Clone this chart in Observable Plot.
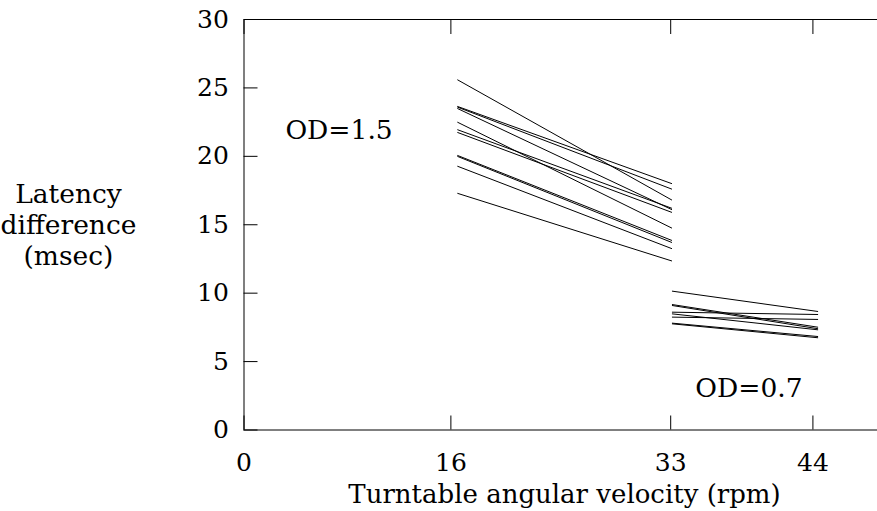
<!DOCTYPE html>
<html><head><meta charset="utf-8">
<script src="https://cdn.jsdelivr.net/npm/d3@7"></script>
<script src="https://cdn.jsdelivr.net/npm/@observablehq/plot@0.6"></script>
<style>
html,body{margin:0;padding:0;background:#fff;overflow:hidden;}
svg, svg text { font-family: "DejaVu Serif", "Liberation Serif", serif !important; }
</style>
</head><body><div id="chart"></div>
<script>
const xTicks = [0, 16, 33, 44];
const yTicks = [0, 5, 10, 15, 20, 25, 30];
const od15Speeds = [16.5, 33.1];
const od15Start = [25.6, 23.65, 23.6, 23.5, 22.5, 21.95, 21.75, 20.07, 20.0, 19.28, 17.3];
const od15End   = [16.8, 18.0, 17.6, 16.1, 14.75, 16.2, 15.9, 13.85, 13.7, 13.25, 12.35];
const od07Speeds = [33.1, 44.4];
const od07Start = [10.15, 9.17, 9.1, 8.61, 8.49, 8.25, 7.81, 7.76];
const od07End   = [8.66, 7.51, 7.40, 8.44, 7.32, 8.08, 6.83, 6.74];
const annotations = [
  {label: "OD=1.5", x: 3.2, y: 21.9},
  {label: "OD=0.7", x: 34.9, y: 3.05}
];
const xTitle = "Turntable angular velocity (rpm)";
const yTitle = "Latency\ndifference\n(msec)";

const segs = [
  ...od15Start.map((s, i) => ({x1: od15Speeds[0], y1: s, x2: od15Speeds[1], y2: od15End[i]})),
  ...od07Start.map((s, i) => ({x1: od07Speeds[0], y1: s, x2: od07Speeds[1], y2: od07End[i]}))
];

const chart = Plot.plot({
  width: 877, height: 511,
  marginLeft: 243.5, marginRight: -13, marginTop: 19, marginBottom: 81.5,
  style: {fontFamily: "DejaVu Serif", fontSize: "25px", color: "#000", background: "#fff"},
  x: {domain: [0, 50]},
  y: {domain: [0, 30]},
  marks: [
    Plot.frame({stroke: "#000", strokeWidth: 1}),
    Plot.axisX(xTicks, {anchor: "bottom", tickSize: -14, tickPadding: 37, label: null}),
    Plot.axisX(xTicks, {anchor: "top", tickSize: -14, tickFormat: () => "", label: null}),
    Plot.axisY(yTicks, {anchor: "left", tickSize: -14, tickPadding: 29.2, label: null}),
    Plot.axisY(yTicks, {anchor: "right", tickSize: -14, tickFormat: () => "", label: null}),
    Plot.link(segs, {x1: "x1", y1: "y1", x2: "x2", y2: "y2", stroke: "#000", strokeWidth: 1}),
    Plot.text(annotations, {x: "x", y: "y", text: "label", textAnchor: "start", fontSize: 26.5, fill: "#000"}),
    Plot.text([xTitle], {frameAnchor: "bottom", dx: -2.75, dy: 72.5, fontSize: 26, fill: "#000"}),
    Plot.text([yTitle], {frameAnchor: "left", dx: -175.5, dy: -1, textAnchor: "middle", fontSize: 26.5, lineHeight: 1.18, fill: "#000"})
  ]
});
document.getElementById("chart").appendChild(chart);
</script>
</body></html>
